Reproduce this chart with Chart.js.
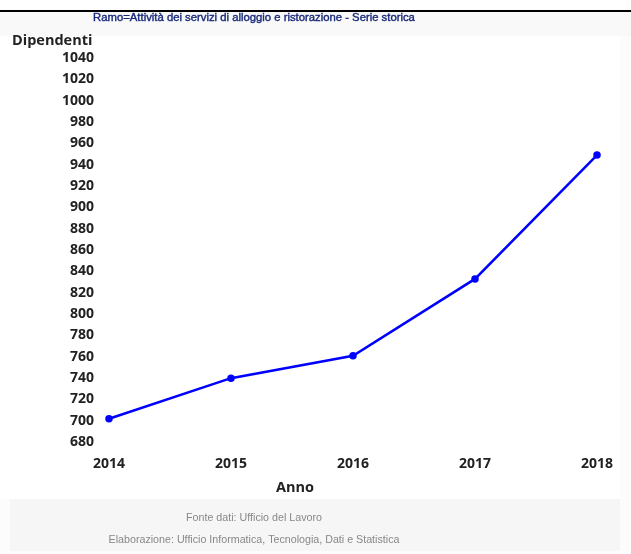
<!DOCTYPE html>
<html>
<head>
<meta charset="utf-8">
<script src="https://cdn.jsdelivr.net/npm/chart.js@4"></script>
<style>
  html, body { margin: 0; padding: 0; background: #ffffff; }
  #wrap { position: relative; width: 631px; height: 554px; }
  canvas { display: block; }
</style>
</head>
<body>
<div id="wrap"><canvas id="c" width="631" height="554"></canvas></div>
<script>
const years = ['2014', '2015', '2016', '2017', '2018'];
const dipendenti = [702, 740, 761, 833, 949];
const yMin = 680;
const yMax = 1040;
const yStep = 20;
const titleText = 'Ramo=Attività dei servizi di alloggio e ristorazione - Serie storica';
const yTitle = 'Dipendenti';
const xTitle = 'Anno';
const footerLines = ['Fonte dati: Ufficio del Lavoro', 'Elaborazione: Ufficio Informatica, Tecnologia, Dati e Statistica'];

const decor = {
  id: 'decor',
  beforeDraw(chart) {
    const ctx = chart.ctx;
    ctx.save();
    ctx.fillStyle = '#fcfcfc';
    ctx.fillRect(0, 0, 631, 554);
    ctx.fillStyle = '#ffffff';
    ctx.fillRect(0, 0, 631, 10);
    ctx.fillStyle = '#f9f9f9';
    ctx.fillRect(0, 12, 631, 24);
    ctx.fillStyle = '#ffffff';
    ctx.fillRect(0, 36, 620, 463);
    ctx.fillStyle = '#f6f6f6';
    ctx.fillRect(10, 499, 610, 52);
    ctx.fillStyle = '#000000';
    ctx.fillRect(0, 10, 631, 2);
    ctx.restore();
  },
  afterDraw(chart) {
    const ctx = chart.ctx;
    ctx.save();
    ctx.textBaseline = 'middle';
    ctx.textAlign = 'center';
    ctx.fillStyle = '#1a2b7c';
    ctx.strokeStyle = '#1a2b7c';
    ctx.lineWidth = 0.4;
    ctx.font = '11.3px "Liberation Sans", Arial, sans-serif';
    ctx.fillText(titleText, 254, 18);
    ctx.strokeText(titleText, 254, 18);
    ctx.fillStyle = '#222222';
    ctx.font = 'bold 14.5px "Open Sans", sans-serif';
    ctx.textAlign = 'left';
    ctx.fillText(yTitle, 12, 41);
    ctx.textAlign = 'center';
    ctx.fillText(xTitle, 295, 488);
    ctx.fillStyle = '#888888';
    ctx.font = '10.7px "Liberation Sans", Arial, sans-serif';
    ctx.fillText(footerLines[0], 254, 518);
    ctx.fillText(footerLines[1], 254, 540);
    ctx.restore();
  }
};

new Chart(document.getElementById('c'), {
  type: 'line',
  data: {
    labels: years,
    datasets: [{
      data: dipendenti,
      borderColor: '#0000ff',
      backgroundColor: '#0000ff',
      borderWidth: 2.5,
      pointRadius: 2.5,
      pointHoverRadius: 2.5,
      tension: 0,
      fill: false
    }]
  },
  options: {
    responsive: false,
    animation: false,
    layout: { padding: { left: 0, right: 34, top: 58, bottom: 69 } },
    plugins: { legend: { display: false }, title: { display: false }, tooltip: { enabled: false } },
    scales: {
      x: {
        type: 'category',
        offset: false,
        grid: { display: false, drawTicks: false },
        border: { display: false },
        ticks: { color: '#222222', padding: 13, font: { family: '"Open Sans", sans-serif', size: 14, weight: 'bold' }, maxRotation: 0 }
      },
      y: {
        min: yMin,
        max: yMax,
        grid: { display: false, drawTicks: false },
        border: { display: false },
        afterFit(scale) { scale.width = 109; },
        ticks: {
          stepSize: yStep,
          color: '#222222',
          padding: 15,
          font: { family: '"Open Sans", sans-serif', size: 14, weight: 'bold' },
          callback: (v) => String(v)
        }
      }
    }
  },
  plugins: [decor]
});
</script>
</body>
</html>
